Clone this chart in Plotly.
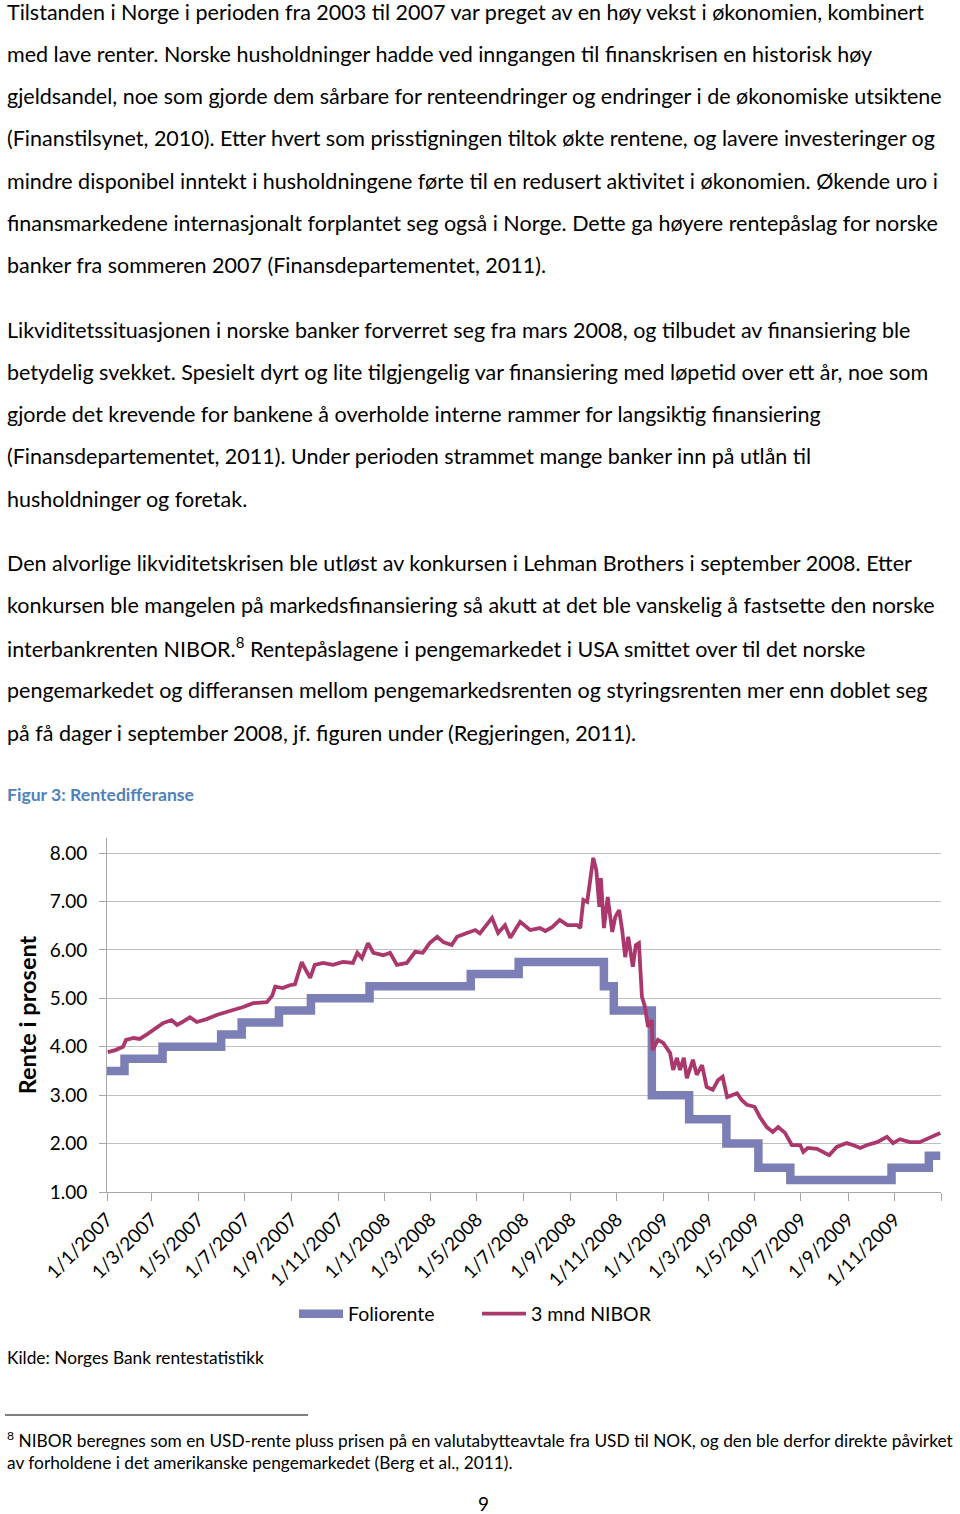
import plotly.graph_objects as go

# ---------------- data ----------------
folio_dates = ["2007-01-01", "2007-01-24", "2007-03-15", "2007-05-31", "2007-06-27",
               "2007-08-15", "2007-09-26", "2007-12-12", "2008-04-23", "2008-06-25",
               "2008-10-15", "2008-10-28", "2008-12-17", "2009-02-04", "2009-03-25",
               "2009-05-06", "2009-06-17", "2009-10-28", "2009-12-16", "2009-12-31"]
folio_values = [3.50, 3.75, 4.00, 4.25, 4.50, 4.75, 5.00, 5.25, 5.50, 5.75,
                5.25, 4.75, 3.00, 2.50, 2.00, 1.50, 1.25, 1.50, 1.75, 1.75]

nibor_dates = [
    "2007-01-02", "2007-01-12", "2007-01-22", "2007-01-26", "2007-02-05", "2007-02-13",
    "2007-02-23", "2007-03-08", "2007-03-16", "2007-03-27", "2007-04-03", "2007-04-10",
    "2007-04-20", "2007-04-29", "2007-05-12", "2007-05-26", "2007-06-08", "2007-06-16",
    "2007-06-29", "2007-07-12", "2007-07-30", "2007-08-06", "2007-08-10", "2007-08-20",
    "2007-08-29", "2007-09-05", "2007-09-14", "2007-09-18", "2007-09-25", "2007-10-01",
    "2007-10-12", "2007-10-25", "2007-11-07", "2007-11-20", "2007-11-26", "2007-12-02",
    "2007-12-10", "2007-12-17", "2007-12-30", "2008-01-08", "2008-01-17", "2008-01-30",
    "2008-02-10", "2008-02-20", "2008-02-29", "2008-03-10", "2008-03-18", "2008-03-29",
    "2008-04-05", "2008-04-18", "2008-04-29", "2008-05-05", "2008-05-21", "2008-05-29",
    "2008-06-07", "2008-06-14", "2008-06-27", "2008-07-10", "2008-07-23", "2008-07-30",
    "2008-08-08", "2008-08-18", "2008-08-28", "2008-09-10", "2008-09-14", "2008-09-18",
    "2008-09-23", "2008-09-27", "2008-10-01", "2008-10-05", "2008-10-09", "2008-10-11",
    "2008-10-15", "2008-10-20", "2008-10-26", "2008-10-30", "2008-11-04", "2008-11-08",
    "2008-11-12", "2008-11-16", "2008-11-22", "2008-11-26", "2008-11-30", "2008-12-04",
    "2008-12-08", "2008-12-12", "2008-12-17", "2008-12-18", "2008-12-25", "2009-01-01",
    "2009-01-10", "2009-01-14", "2009-01-19", "2009-01-23", "2009-01-28", "2009-02-01",
    "2009-02-09", "2009-02-14", "2009-02-21", "2009-02-27", "2009-03-07", "2009-03-14",
    "2009-03-20", "2009-03-26", "2009-04-08", "2009-04-14", "2009-04-21", "2009-05-01",
    "2009-05-08", "2009-05-17", "2009-05-25", "2009-06-01", "2009-06-10", "2009-06-19",
    "2009-06-30", "2009-07-04", "2009-07-10", "2009-07-22", "2009-07-30", "2009-08-07",
    "2009-08-17", "2009-08-30", "2009-09-07", "2009-09-17", "2009-09-26", "2009-10-09",
    "2009-10-22", "2009-10-30", "2009-11-08", "2009-11-21", "2009-12-04", "2009-12-18",
    "2009-12-31"]
nibor_values = [
    3.89, 3.93, 4.00, 4.14, 4.18, 4.16,
    4.26, 4.41, 4.49, 4.55, 4.45, 4.51,
    4.61, 4.51, 4.57, 4.66, 4.72, 4.76,
    4.82, 4.90, 4.92, 5.05, 5.24, 5.21,
    5.27, 5.29, 5.75, 5.62, 5.42, 5.69,
    5.73, 5.69, 5.75, 5.73, 5.94, 5.83,
    6.14, 5.94, 5.89, 5.94, 5.69, 5.73,
    5.96, 5.94, 6.14, 6.27, 6.16, 6.10,
    6.27, 6.35, 6.41, 6.34, 6.66, 6.35,
    6.51, 6.25, 6.58, 6.41, 6.45, 6.39,
    6.47, 6.62, 6.51, 6.51, 6.45, 7.03,
    6.99, 7.44, 7.90, 7.65, 6.89, 7.48,
    6.45, 7.09, 6.37, 6.68, 6.82, 6.41,
    5.85, 6.27, 5.65, 6.10, 6.14, 5.03,
    4.82, 4.41, 4.55, 3.93, 4.14, 4.08,
    3.87, 3.52, 3.77, 3.52, 3.77, 3.35,
    3.73, 3.42, 3.62, 3.17, 3.11, 3.31,
    3.38, 2.96, 3.04, 2.90, 2.80, 2.76,
    2.55, 2.34, 2.24, 2.34, 2.22, 1.97,
    1.97, 1.83, 1.91, 1.89, 1.83, 1.76,
    1.93, 2.01, 1.97, 1.91, 1.97, 2.03,
    2.14, 2.01, 2.09, 2.03, 2.03, 2.12,
    2.22]

x_tick_dates = ["2007-01-01", "2007-03-01", "2007-05-01", "2007-07-01", "2007-09-01",
                "2007-11-01", "2008-01-01", "2008-03-01", "2008-05-01", "2008-07-01",
                "2008-09-01", "2008-11-01", "2009-01-01", "2009-03-01", "2009-05-01",
                "2009-07-01", "2009-09-01", "2009-11-01", "2010-01-01"]
x_tick_labels = ["1/1/2007", "1/3/2007", "1/5/2007", "1/7/2007", "1/9/2007", "1/11/2007",
                 "1/1/2008", "1/3/2008", "1/5/2008", "1/7/2008", "1/9/2008", "1/11/2008",
                 "1/1/2009", "1/3/2009", "1/5/2009", "1/7/2009", "1/9/2009", "1/11/2009", " "]
y_tick_values = [1, 2, 3, 4, 5, 6, 7, 8]
y_tick_labels = ["1.00", "2.00", "3.00", "4.00", "5.00", "6.00", "7.00", "8.00"]

series_names = ["Foliorente", "3 mnd NIBOR"]
y_title = "Rente i prosent"
caption = "Figur 3: Rentedifferanse"
source_text = "Kilde: Norges Bank rentestatistikk"

paragraph1 = [
    "Tilstanden i Norge i perioden fra 2003 til 2007 var preget av en høy vekst i økonomien, kombinert",
    "med lave renter. Norske husholdninger hadde ved inngangen til finanskrisen en historisk høy",
    "gjeldsandel, noe som gjorde dem sårbare for renteendringer og endringer i de økonomiske utsiktene",
    "(Finanstilsynet, 2010). Etter hvert som prisstigningen tiltok økte rentene, og lavere investeringer og",
    "mindre disponibel inntekt i husholdningene førte til en redusert aktivitet i økonomien. Økende uro i",
    "finansmarkedene internasjonalt forplantet seg også i Norge. Dette ga høyere rentepåslag for norske",
    "banker fra sommeren 2007 (Finansdepartementet, 2011).",
]
paragraph2 = [
    "Likviditetssituasjonen i norske banker forverret seg fra mars 2008, og tilbudet av finansiering ble",
    "betydelig svekket. Spesielt dyrt og lite tilgjengelig var finansiering med løpetid over ett år, noe som",
    "gjorde det krevende for bankene å overholde interne rammer for langsiktig finansiering",
    "(Finansdepartementet, 2011). Under perioden strammet mange banker inn på utlån til",
    "husholdninger og foretak.",
]
paragraph3 = [
    "Den alvorlige likviditetskrisen ble utløst av konkursen i Lehman Brothers i september 2008. Etter",
    "konkursen ble mangelen på markedsfinansiering så akutt at det ble vanskelig å fastsette den norske",
    "interbankrenten NIBOR.<sup>8</sup> Rentepåslagene i pengemarkedet i USA smittet over til det norske",
    "pengemarkedet og differansen mellom pengemarkedsrenten og styringsrenten mer enn doblet seg",
    "på få dager i september 2008, jf. figuren under (Regjeringen, 2011).",
]
footnote = [
    "<sup>8</sup> NIBOR beregnes som en USD-rente pluss prisen på en valutabytteavtale fra USD til NOK, og den ble derfor direkte påvirket",
    "av forholdene i det amerikanske pengemarkedet (Berg et al., 2011).",
]
page_number = "9"

# ---------------- layout helpers ----------------
W, H = 960, 1514
FONT = "Lato"


def px(x):
    return x / W


def py(y):
    return 1 - y / H


FOLIO_COLOR = "#7B7FB5"
NIBOR_COLOR = "#AA386D"

fig = go.Figure()
fig.add_trace(go.Scatter(x=folio_dates, y=folio_values, name=series_names[0], mode="lines",
                         line=dict(color=FOLIO_COLOR, width=8.5, shape="hv")))
fig.add_trace(go.Scatter(x=nibor_dates, y=nibor_values, name=series_names[1], mode="lines",
                         line=dict(color=NIBOR_COLOR, width=3.8)))

annotations = []


def add_lines(lines, y0, step, size=21.5, color="black", x0=5):
    for i, t in enumerate(lines):
        annotations.append(dict(text=t, x=px(x0), y=py(y0 + i * step), xref="paper", yref="paper",
                                xanchor="left", yanchor="middle", showarrow=False,
                                font=dict(family=FONT, size=size, color=color)))


add_lines(paragraph1, 11.5, 42.3)
add_lines(paragraph2, 329.5, 42.3)
add_lines(paragraph3, 562.5, 42.5)
add_lines(["<b>" + caption + "</b>"], 794, 0, size=17.6, color="#4F81BD")
add_lines([source_text], 1357, 0, size=17.3)
add_lines(footnote, 1439, 23, size=17.3)
annotations.append(dict(text=page_number, x=px(483), y=py(1503), xref="paper", yref="paper",
                        xanchor="center", yanchor="middle", showarrow=False,
                        font=dict(family=FONT, size=19, color="black")))

shapes = [dict(type="line", xref="paper", yref="paper", x0=px(5), x1=px(308), y0=py(1415), y1=py(1415),
               line=dict(color="black", width=1))]

fig.update_layout(
    width=W, height=H, autosize=False,
    margin=dict(l=0, r=0, t=0, b=0, pad=0),
    paper_bgcolor="white", plot_bgcolor="white",
    font=dict(family=FONT, color="black"),
    showlegend=True,
    legend=dict(orientation="h", x=px(294), y=py(1314), xanchor="left", yanchor="middle",
                font=dict(family=FONT, size=19.5, color="black"), bgcolor="rgba(0,0,0,0)",
                itemwidth=44, tracegroupgap=0, entrywidth=124, entrywidthmode="pixels"),
    annotations=annotations,
    shapes=shapes,
    xaxis=dict(type="date", range=["2007-01-01", "2010-01-01"], domain=[px(107), px(941)],
               automargin=False,
               tickvals=x_tick_dates, ticktext=x_tick_labels, tickangle=-45,
               tickfont=dict(family=FONT, size=19, color="black"),
               ticks="outside", ticklen=8, tickcolor="#A6A6A6",
               showline=True, linecolor="#A6A6A6", linewidth=1, showgrid=False, zeroline=False),
    yaxis=dict(range=[1, 8.31], domain=[py(1192), py(838)],
               automargin=False,
               tickvals=y_tick_values, ticktext=y_tick_labels,
               tickfont=dict(family=FONT, size=19, color="black"),
               ticks="outside", ticklen=7, tickcolor="#A6A6A6", ticklabelstandoff=8,
               showline=True, linecolor="#A6A6A6", linewidth=1,
               showgrid=True, gridcolor="#C0C0C0", gridwidth=1, zeroline=False,
               title=dict(text="<b>" + y_title + "</b>", font=dict(family=FONT, size=23.5, color="black"),
                          standoff=6)),
)

fig.write_html("out.html", config={"displayModeBar": False},
               post_script="document.body.style.margin='0';")
